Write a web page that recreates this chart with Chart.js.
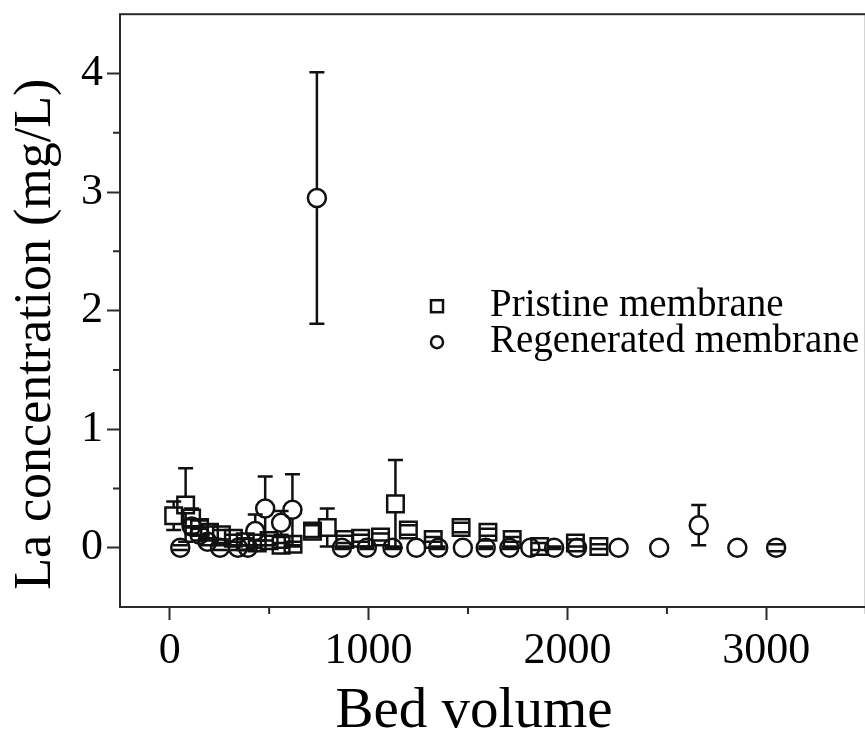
<!DOCTYPE html>
<html>
<head>
<meta charset="utf-8">
<script src="https://cdn.jsdelivr.net/npm/chart.js@4.4.0/dist/chart.umd.min.js"></script>
<style>
html, body { margin: 0; padding: 0; background: #fff; overflow: hidden; }
#wrap { width: 880px; height: 744px; }
</style>
</head>
<body>
<div id="wrap"><canvas id="myChart"></canvas></div>
<script>
// data
const pristineBV  = [20, 80, 110, 150, 200, 260, 320, 380, 440, 500, 560, 620, 718, 792, 880, 960, 1060, 1135, 1200, 1325, 1465, 1600, 1722, 1860, 2040, 2158];
const pristineLa  = [0.27, 0.36, 0.25, 0.17, 0.13, 0.11, 0.08, 0.05, 0.04, 0.06, 0.02, 0.03, 0.14, 0.17, 0.07, 0.08, 0.09, 0.37, 0.15, 0.07, 0.17, 0.13, 0.07, 0.01, 0.04, 0.01];
const pristineErr = [0.12, 0.31, 0.08, 0.06, 0.05, 0.04, 0.03, 0.03, 0.02, 0.04, 0.02, 0.02, 0.05, 0.16, 0.03, 0.03, 0.03, 0.37, 0.04, 0.02, 0.04, 0.03, 0.02, 0.03, 0.03, 0.02];

const regenBV  = [53, 110, 150, 190, 253, 343, 393, 430, 480, 560, 617, 740, 866, 991, 1120, 1240, 1350, 1474, 1589, 1708, 1813, 1933, 2048, 2257, 2461, 2660, 2854, 3049];
const regenLa  = [0, 0.18, 0.11, 0.05, 0, 0, 0, 0.14, 0.33, 0.21, 0.32, 2.95, 0, 0, 0, 0, 0, 0, 0, 0, 0, 0, 0, 0, 0, 0.19, 0, 0];
const regenErr = [0.02, 0.06, 0.05, 0.03, 0.02, 0.02, 0.02, 0.14, 0.27, 0.1, 0.3, 1.06, 0.01, 0.01, 0.01, 0, 0.01, 0, 0.01, 0.01, 0, 0.01, 0, 0, 0, 0.17, 0, 0.03];

const xTicks = [0, 1000, 2000, 3000];
const xMinor = [500, 1500, 2500, 3500];
const yTicks = [0, 1, 2, 3, 4];
const yMinor = [0.5, 1.5, 2.5, 3.5];

const seriesNames = ['Pristine membrane', 'Regenerated membrane'];
const xTitle = 'Bed volume';
const yTitle = 'La concentration (mg/L)';

const serif = '"Liberation Serif", "Times New Roman", serif';
const ink = '#111';
const axisInk = '#2b2b2b';

const toPoints = (xs, ys) => xs.map((x, i) => ({x: x, y: ys[i]}));

// frame, minor ticks, axis titles and legend
const decorations = {
    id: 'decorations',
    afterDraw(chart) {
        const ctx = chart.ctx;
        const a = chart.chartArea;
        const sx = chart.scales.x, sy = chart.scales.y;
        ctx.save();
        ctx.strokeStyle = axisInk;
        ctx.lineWidth = 2;
        ctx.strokeRect(a.left, a.top, a.right - a.left, a.bottom - a.top);
        ctx.beginPath();
        xMinor.forEach(v => {
            const px = sx.getPixelForValue(v);
            ctx.moveTo(px, a.bottom);
            ctx.lineTo(px, a.bottom + 7);
        });
        yMinor.forEach(v => {
            const py = sy.getPixelForValue(v);
            ctx.moveTo(a.left, py);
            ctx.lineTo(a.left - 7, py);
        });
        ctx.stroke();

        // axis titles
        ctx.fillStyle = '#000';
        ctx.textAlign = 'center';
        ctx.textBaseline = 'middle';
        ctx.font = '57px ' + serif;
        ctx.fillText(xTitle, sx.getPixelForValue(1530), a.bottom + 105);
        ctx.save();
        ctx.translate(36, sy.getPixelForValue(1.8));
        ctx.rotate(-Math.PI / 2);
        ctx.font = '52px ' + serif;
        ctx.fillText(yTitle, 0, 0);
        ctx.restore();

        // legend
        const lx = a.left + 317, ly = a.top + 292;
        ctx.strokeStyle = ink;
        ctx.lineWidth = 2.5;
        ctx.strokeRect(lx - 6, ly - 6, 12, 12);
        ctx.beginPath();
        ctx.arc(lx, ly + 36, 6, 0, Math.PI * 2);
        ctx.stroke();
        ctx.textAlign = 'left';
        ctx.font = '39px ' + serif;
        ctx.fillText(seriesNames[0], lx + 53, ly);
        ctx.fillText(seriesNames[1], lx + 53, ly + 36);
        ctx.restore();
    }
};

// error bars drawn from the symbol edge outward
const errorBars = {
    id: 'errorBars',
    afterDatasetsDraw(chart) {
        const ctx = chart.ctx;
        const sy = chart.scales.y;
        ctx.save();
        ctx.strokeStyle = ink;
        ctx.lineWidth = 2.5;
        chart.data.datasets.forEach((ds, i) => {
            const meta = chart.getDatasetMeta(i);
            meta.data.forEach((pt, j) => {
                const e = ds.errors[j];
                if (!e) return;
                const v = ds.data[j].y;
                const top = sy.getPixelForValue(v + e);
                const bot = sy.getPixelForValue(v - e);
                const r = ds.edge;
                ctx.beginPath();
                if (pt.y - top > r) {
                    ctx.moveTo(pt.x, top);
                    ctx.lineTo(pt.x, pt.y - r);
                    ctx.moveTo(pt.x, pt.y + r);
                    ctx.lineTo(pt.x, bot);
                }
                ctx.moveTo(pt.x - 7.5, top);
                ctx.lineTo(pt.x + 7.5, top);
                ctx.moveTo(pt.x - 7.5, bot);
                ctx.lineTo(pt.x + 7.5, bot);
                ctx.stroke();
            });
        });
        ctx.restore();
    }
};

const data = {
    datasets: [{
        label: seriesNames[0],
        data: toPoints(pristineBV, pristineLa),
        errors: pristineErr,
        edge: 8.5,
        pointStyle: 'rect',
        pointRadius: 11.7,
        borderColor: ink,
        backgroundColor: 'rgba(0,0,0,0)',
        borderWidth: 2.5,
        showLine: false
    }, {
        label: seriesNames[1],
        data: toPoints(regenBV, regenLa),
        errors: regenErr,
        edge: 9,
        pointStyle: 'circle',
        pointRadius: 9,
        borderColor: ink,
        backgroundColor: 'rgba(0,0,0,0)',
        borderWidth: 2.5,
        showLine: false
    }]
};

const config = {
    type: 'scatter',
    data: data,
    options: {
        responsive: true,
        maintainAspectRatio: false,
        animation: false,
        layout: { padding: { top: 14, right: 9, left: 0, bottom: 0 } },
        plugins: {
            legend: { display: false },
            tooltip: { enabled: false }
        },
        scales: {
            x: {
                type: 'linear',
                min: -250,
                max: 3500,
                afterBuildTicks: s => { s.ticks = xTicks.map(v => ({value: v})); },
                afterFit: s => { s.height = 137; s.paddingLeft = 0; s.paddingRight = 0; },
                border: { display: false },
                grid: { drawOnChartArea: false, tickLength: 13, tickWidth: 2, tickColor: axisInk },
                ticks: { color: '#000', padding: 5, font: { family: serif, size: 44 }, callback: v => String(v) }
            },
            y: {
                type: 'linear',
                min: -0.5,
                max: 4.5,
                afterBuildTicks: s => { s.ticks = yTicks.map(v => ({value: v})); },
                afterFit: s => { s.width = 120; s.paddingTop = 0; s.paddingBottom = 0; },
                border: { display: false },
                grid: { drawOnChartArea: false, tickLength: 13, tickWidth: 2, tickColor: axisInk },
                ticks: { color: '#000', padding: 4, font: { family: serif, size: 44 }, callback: v => String(v) }
            }
        }
    },
    plugins: [errorBars, decorations]
};

const myChart = new Chart(document.getElementById('myChart'), config);
</script>
</body>
</html>
